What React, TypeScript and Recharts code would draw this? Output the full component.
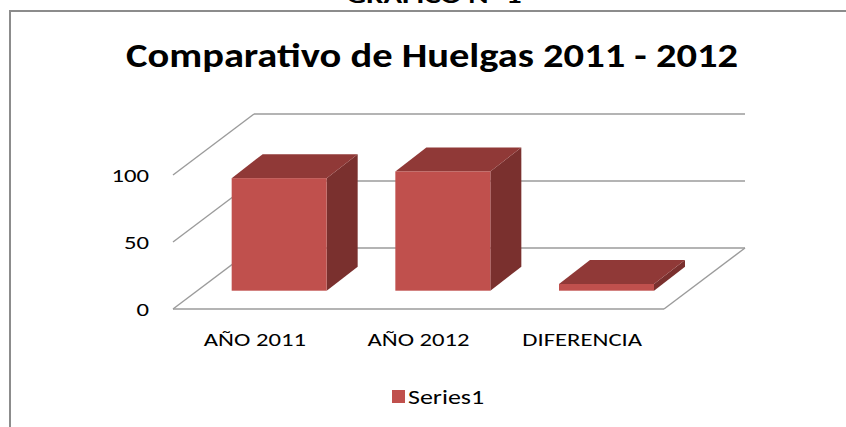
import React from 'react';
import { BarChart, Bar, XAxis, YAxis, CartesianGrid, ReferenceLine, Legend } from 'recharts';

const categories = ['AÑO 2011', 'AÑO 2012', 'DIFERENCIA'];
const series1 = [84, 89, 5];
const yTicks = [0, 50, 100];
const chartTitle = 'Comparativo de Huelgas 2011 - 2012';
const topCaption = 'GRAFICO N° 1';
const seriesName = 'Series1';

const data = categories.map((c, i) => ({ name: c, value: series1[i] }));

const FONT = 'Carlito, Lato, "Liberation Sans", sans-serif';
const STRETCH = 1.3;
const DEPTH_X = 81;
const DEPTH_Y = -61;
const BAR_PLANE = 0.3;
const BAR_DX = 31;
const BAR_DY = -24;
const GRID = '#9b9b9b';
const FRONT = '#C0504D';
const TOP = '#903937';
const SIDE = '#7A302E';

const GridLine = (props: any) => {
  const { x1, y1, x2, y2 } = props;
  return (
    <g>
      <line x1={x1 + DEPTH_X} y1={y1 + DEPTH_Y} x2={x2 + DEPTH_X} y2={y2 + DEPTH_Y} stroke={GRID} strokeWidth={1.6} />
      <line x1={x1} y1={y1} x2={x1 + DEPTH_X} y2={y1 + DEPTH_Y} stroke={GRID} strokeWidth={1.4} />
    </g>
  );
};

const FloorEdge = (props: any) => {
  const { x1, y1, x2, y2 } = props;
  return (
    <g>
      <line x1={x1} y1={y1} x2={x2} y2={y2} stroke={GRID} strokeWidth={1.4} />
      <line x1={x2} y1={y2} x2={x2 + DEPTH_X} y2={y2 + DEPTH_Y} stroke={GRID} strokeWidth={1.4} />
    </g>
  );
};

const Box = (props: any) => {
  const { x, y, width, height } = props;
  if (x == null || y == null) return null;
  const fx = x + BAR_PLANE * DEPTH_X;
  const fy = y + BAR_PLANE * DEPTH_Y;
  const w = width;
  const h = height;
  const top = `${fx},${fy} ${fx + w},${fy} ${fx + w + BAR_DX},${fy + BAR_DY} ${fx + BAR_DX},${fy + BAR_DY}`;
  const side = `${fx + w},${fy} ${fx + w + BAR_DX},${fy + BAR_DY} ${fx + w + BAR_DX},${fy + h + BAR_DY} ${fx + w},${fy + h}`;
  return (
    <g>
      <polygon points={side} fill={SIDE} />
      <polygon points={top} fill={TOP} />
      <rect x={fx} y={fy} width={w} height={h} fill={FRONT} />
    </g>
  );
};

const XTick = (props: any) => {
  const { x, y, payload } = props;
  return (
    <g transform={`translate(${x},${y})`}>
      <text transform={`scale(${STRETCH},1)`} textAnchor="middle" dy="0.71em" fontFamily={FONT} fontSize={19} fill="#000">
        {payload.value}
      </text>
    </g>
  );
};

const YTick = (props: any) => {
  const { x, y, payload } = props;
  return (
    <g transform={`translate(${x},${y})`}>
      <text transform={`scale(${STRETCH},1)`} textAnchor="end" dy="0.355em" fontFamily={FONT} fontSize={19} fill="#000">
        {payload.value}
      </text>
    </g>
  );
};

const LegendContent = () => (
  <svg width={846} height={24} style={{ display: 'block' }}>
    <rect x={392} y={5} width={13} height={13} fill={FRONT} />
    <g transform="translate(408,12)">
      <text transform={`scale(${STRETCH},1)`} dy="0.355em" fontFamily={FONT} fontSize={20} fill="#000">
        {seriesName}
      </text>
    </g>
  </svg>
);

export default function App() {
  return (
    <div style={{ position: 'fixed', left: 0, top: 0, width: 846, height: 427, overflow: 'hidden', background: '#fff' }}>
      <div style={{ position: 'absolute', left: 9, top: 10, width: 900, height: 500, border: '2px solid #8c8c8c', boxSizing: 'border-box' }} />
      <svg width={846} height={90} style={{ position: 'absolute', left: 0, top: 0 }}>
        <text x={434} y={3} textAnchor="middle" fontFamily={FONT} fontWeight={700} fontSize={22} textLength={175} lengthAdjust="spacingAndGlyphs" fill="#000">
          {topCaption}
        </text>
        <text x={432} y={67} textAnchor="middle" fontFamily={FONT} fontWeight={700} fontSize={35} textLength={612} lengthAdjust="spacingAndGlyphs" fill="#000">
          {chartTitle}
        </text>
      </svg>
      <div style={{ position: 'absolute', left: 0, top: 0 }}>
        <BarChart
          width={846}
          height={427}
          data={data}
          margin={{ top: 175, right: 182, bottom: 78, left: 113 }}
          barCategoryGap="21%"
        >
          <CartesianGrid vertical={false} horizontal={GridLine} />
          <XAxis
            dataKey="name"
            height={40}
            axisLine={false}
            tickLine={false}
            tickSize={0}
            tickMargin={24}
            interval={0}
            tick={XTick}
          />
          <YAxis
            width={60}
            domain={[0, 100]}
            ticks={yTicks}
            axisLine={false}
            tickLine={false}
            tickSize={0}
            tickMargin={24}
            tick={YTick}
          />
          <ReferenceLine y={0} shape={FloorEdge} />
          <Bar dataKey="value" name={seriesName} shape={Box} isAnimationActive={false} />
          <Legend
            verticalAlign="middle"
            align="center"
            layout="horizontal"
            content={LegendContent}
            wrapperStyle={{ top: 385, left: 0, width: 846, height: 24 }}
          />
        </BarChart>
      </div>
    </div>
  );
}
